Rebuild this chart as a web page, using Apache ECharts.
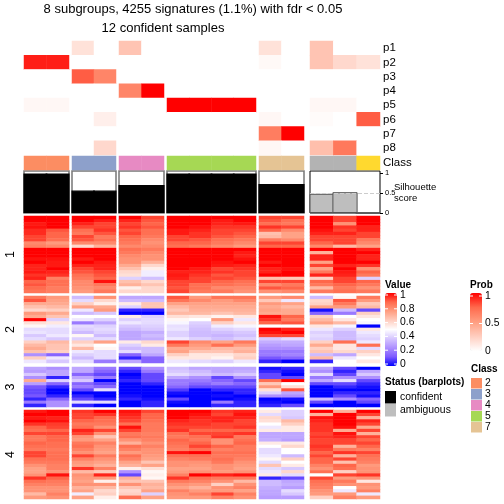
<!DOCTYPE html>
<html><head><meta charset="utf-8">
<style>html,body{margin:0;padding:0;background:#fff}#c{width:504px;height:504px}</style>
<script src="https://cdn.jsdelivr.net/npm/echarts@6/dist/echarts.min.js"></script>
</head><body><div id="c"></div>
<script>
// data: every inner array of a slice is one sample (column); samples run left to right across groups
const probLabels = ['p1','p2','p3','p4','p5','p6','p7','p8'];
const groupSizes = [2,2,2,4,2,3];
const probRows = [
 // one row per p, one value per sample
 [0,0,.15,0,.3,0,0,0,0,0,.15,0,.3,0,0],
 [.93,.93,0,0,0,0,0,0,0,0,.03,0,.3,.2,.15],
 [0,0,.78,.62,0,0,0,0,0,0,0,0,0,0,0],
 [0,0,0,0,.62,1,0,0,0,0,0,0,0,0,0],
 [.04,.04,0,0,0,0,1,1,1,1,0,0,.04,.04,0],
 [0,0,0,.08,0,0,0,0,0,0,.04,0,.02,0,.78],
 [0,0,0,0,0,0,0,0,0,0,.66,1,0,0,0],
 [0,0,0,.2,0,0,0,0,0,0,.04,0,.33,.68,0]
];
const classOfSample = ['2','2','3','3','4','4','5','5','5','5','7','7','amb','amb','yel'];
const classColors = {'2':'#FC8D62','3':'#8DA0CB','4':'#E78AC3','5':'#A6D854','7':'#E5C494',amb:'#B3B3B3',yel:'#FFD92F'};
const silhouette = [.99,.99,.56,.56,.70,.70,.99,.99,.99,.99,.725,.725,.48,.52,0];
const confident = [1,1,1,1,1,1,1,1,1,1,1,1,0,0,0];
const sliceNames = ['1','2','3','4'];
const slice1 = [
 [1,1,.97,.98,.95,.95,.92,.92,.8,.82,1,1,1,.98,1,.96,.96,.97,.94,.96,.88,.9,.87,.85],
 [1,1,1,1,.9,.88,.88,.86,.76,.8,1,1,1,.98,.97,.97,1,.96,.94,.82,.86,.86,.83,.83],
 [1,1,.96,.92,.86,.84,.92,.9,.8,.6,1,1,1,.97,1,.96,.92,.9,.86,.84,.8,.8,.78,.76],
 [1,.97,.92,.92,.94,.9,.84,.86,.8,.7,1,1,1,1,.97,.96,.96,.92,.9,.88,.98,.84,.8,.84],
 [1,.96,.92,.94,.9,.92,.88,.86,.84,.8,.86,.84,.8,.78,.78,.72,.66,.6,.58,.4,.66,.7,.54,.6],
 [.92,.9,.88,.9,.86,.86,.84,.8,.78,.8,.84,.8,.78,.78,.7,.6,.54,.46,.46,.36,.6,.65,.6,.6],
 [1,1,1,1,.97,.97,.92,.92,.88,.86,1,1,1,1,1,1,1,.96,.97,.96,.92,.92,.9,.92],
 [1,1,1,.98,.96,.94,.94,.9,.88,.84,1,1,1,1,1,1,.97,.96,.94,.92,.92,.86,.86,.84],
 [1,.97,.96,.94,.92,.92,.9,.86,.84,.8,1,1,1,1,.98,.97,.92,.94,.9,.92,.88,.86,.8,.84],
 [1,1,.97,.94,.92,.9,.88,.84,.8,.76,1,.97,.96,.98,1,.96,.94,.92,.92,.9,.86,.84,.8,.78],
 [.92,.9,.86,.94,.88,.66,.68,.83,.92,.88,1,1,1,1,.97,1,.96,.96,1,.66,.92,.8,.9,.78],
 [.92,.86,.84,.92,.8,.74,.74,.8,.92,.88,1,1,1,1,1,1,.98,1,1,.64,.92,.84,.88,.8],
 [1,1,1,1,.98,.96,.92,.92,.88,.8,1,.7,.96,.96,.74,.92,.74,.84,.96,.62,.88,.84,.68,.84],
 [.92,.92,.78,.94,.92,.96,.92,.92,.92,.68,1,1,1,1,1,.96,1,.97,.96,.92,.92,.88,.84,.86],
 [1,1,1,.96,.96,.92,.92,.84,.8,.74,.96,1,.96,.96,1,.94,.78,.88,.84,.4,.88,.84,.78,.84]
];
const slice2 = [
 [.84,.9,.72,.66,.6,.76,.72,1,.58,.52,.42,.44,.38,.42,.62,.68,.72,.66,.25,.62,.45],
 [.76,.74,.72,.68,.62,.72,.65,.4,.56,.46,.42,.42,.45,.38,.68,.65,.65,.62,.15,.45,.38],
 [.35,.42,.62,.74,.45,.35,.5,.45,.2,.42,.4,.35,.52,.4,.62,.56,.68,.45,.4,.35,.42],
 [.78,.6,.54,.72,.76,.38,.5,.4,.3,.4,.42,.4,.35,.42,.74,.5,.52,.42,.42,.42,.2],
 [.3,.35,.55,.4,.05,0,.55,.4,.45,.38,.35,.3,.3,.3,.55,.4,.35,.42,.15,.05,.3],
 [.3,.35,.65,.65,.05,0,.4,.42,.42,.4,.38,.32,.35,.32,.6,.55,.35,.35,.3,.15,.15],
 [.9,.85,.74,.68,.64,.68,.58,.52,.48,.43,.44,.4,.4,.45,.92,.84,.72,.74,.62,.56,.45],
 [.76,.8,.74,.72,.7,.68,.56,.5,.4,.38,.36,.35,.35,.4,.8,.76,.72,.65,.56,.56,.42],
 [.85,.76,.74,.72,.7,.65,.53,.76,.62,.46,.4,.36,.33,.36,.74,.86,.68,.65,.56,.53,.4],
 [.85,.8,.74,.72,.7,.68,.56,.45,.56,.48,.42,.38,.36,.4,.84,.76,.68,.7,.6,.62,.45],
 [.76,.64,.76,.72,.74,.72,.98,.94,.88,.5,1,.98,.92,.38,.32,.28,.25,.2,.2,.12,.05],
 [.8,.45,.74,.68,.72,.72,.88,.84,.9,.5,.96,1,.92,.42,.32,.3,.25,.2,.22,.15,0],
 [.35,.6,.62,.74,.02,.15,.62,.68,.74,.56,.45,.4,.42,.4,.62,.72,.62,.65,.35,.68,.05],
 [.52,.9,.84,.76,.35,.2,.5,.56,.68,.48,.4,.35,.35,.35,.86,.56,.56,.6,.3,.45,.5],
 [.84,.76,.64,.68,.1,.62,.56,.5,.48,0,.56,.45,.42,.4,.45,.86,.42,.62,.56,.5,.56]
];
const slice3 = [
 [.3,.28,.38,.25,.72,.28,.12,.1,.1,.12,.05,.2,.05],
 [.25,.3,.3,.05,.4,.15,.05,0,0,.05,.15,.25,.25],
 [.3,.3,.15,.3,.38,.15,.2,.1,0,.05,.1,.42,.05],
 [.2,.15,.1,.2,0,.1,.15,.42,0,0,.05,.42,0],
 [.1,.05,0,.02,.05,0,0,0,0,.02,.05,0,0],
 [.25,.2,.1,.1,.1,.05,0,0,0,0,.02,.05,.05],
 [.36,.38,.42,.3,.2,.2,.15,.08,.02,0,.1,.02,0],
 [.3,.35,.38,.25,.2,.15,.1,0,0,0,0,0,0],
 [.3,.3,.35,.1,.15,.2,.1,.05,0,.02,0,.2,.05],
 [.3,.32,.38,.25,.1,.15,.1,.05,.05,0,.02,.05,.05],
 [.02,.05,.1,.1,.86,.64,.76,.58,.4,.25,0,.02,.05],
 [.05,.02,0,.1,1,.5,.58,.9,.3,.25,.02,0,.1],
 [.3,.25,.42,.2,.3,.1,0,0,0,0,.35,.1,0],
 [.1,.05,.1,.25,.42,.1,.05,0,.05,.1,.25,0,0],
 [0,.3,.38,.25,.1,.05,.02,0,.05,.02,.15,.1,0]
];
const slice4 = [
 [.97,1,.97,1,.94,.88,.86,.92,.84,.84,.88,.86,.84,.92,.92,.86,.84,.78,.74,.74,.78,.94,.86,.82,.78,.78,.68,.76],
 [1,1,.96,.98,.93,.92,.88,.92,.88,.88,.86,.86,.84,.86,.86,.86,.84,.82,.82,.78,.98,.88,.84,.82,.78,.78,.82,.78],
 [.94,.92,.92,.88,.84,.86,.96,.92,.78,.76,.84,.86,.82,.78,.92,.82,.76,.74,.94,.68,.78,.76,.74,.78,.7,.74,.46,.74],
 [1,.94,.88,.86,.84,.78,.92,.78,.65,.74,.82,.78,.76,.74,.84,.78,.74,.7,.82,.64,.96,.76,.54,.78,.68,.6,.62,.54],
 [.98,.96,.94,.92,.86,.98,.92,.84,.86,.78,.7,.86,.82,.76,.86,.82,.74,.7,.54,.25,.1,.7,.65,.78,.65,.6,.62,.86],
 [.92,.88,.88,.86,.84,.84,.84,.82,.84,.82,.78,.82,.78,.78,.76,.74,.65,.74,.58,.52,.54,.52,.65,.7,.68,.74,.4,.74],
 [1,1,1,.96,.94,.92,.94,.86,.84,.88,.86,.84,.82,.98,.86,.82,.78,.78,.74,.76,.82,.94,.84,.78,.74,.82,.78,.76],
 [1,.98,.96,.94,.94,.92,.88,.92,.86,.84,.88,.92,.86,1,.86,.84,.78,.76,.74,.78,1,.86,.82,.76,.7,.76,.82,.76],
 [.94,.92,.96,.96,.92,.92,.88,.92,.94,.78,.78,.88,.82,.86,.84,.86,.84,.78,.78,.76,.96,.84,.78,.62,.78,.76,.92,.82],
 [.96,.98,.96,.92,.92,.94,.88,.94,.84,.86,.88,.84,.84,.86,.84,.82,.78,.76,.74,.78,.98,.84,.68,.78,.82,.74,.82,.78],
 [.55,.42,.6,.58,.5,.45,.55,.3,.3,.32,.55,.5,.42,.42,.45,.52,.42,.65,.42,.45,.55,.05,.35,.35,.32,.3,.3,.28],
 [.4,.4,.38,.68,.62,.55,.55,.3,.3,.28,.55,.6,.5,.5,.35,.62,.5,.55,.38,.6,.42,.1,.3,.32,.28,.42,.38,.28],
 [1,.7,.98,.96,.94,.94,.94,.92,.94,.92,.92,.94,.92,.88,.92,.88,.88,.82,.78,.86,.5,.92,.86,.84,.82,.78,.76,.62],
 [.7,1,1,1,1,.98,.72,.98,.96,.92,.92,.7,.84,.94,.7,.92,.66,.88,.86,.62,.92,.76,.84,.78,.5,.45,.76,.82],
 [1,.92,.7,.96,.92,.72,.92,.7,.92,.88,.92,.88,.82,.92,.86,.84,.82,.76,.78,.78,.94,.78,.56,.78,.76,.82,.45,.76]
];
const slices = [slice1,slice2,slice3,slice4];
const valueTicks = [1,.8,.6,.4,.2,0];
const probTicks = [1,.5,0];
const classLegend = ['2','3','4','5','7'];
const statusLegend = [['confident','#000'],['ambiguous','#BEBEBE']];

// layout
const FONT = '"Liberation Sans",Arial,sans-serif';
const groupBox = [[24,45],[72,44],[119,45],[167,89],[259,45],[310,70]];
const blocks = {prob:[41,114],cls:[156,14],sil:[171,42]};
const sliceBox = [[216,77],[296,67],[367,40],[410,89]];
const VAL = ['#0000FF','#7D5AFF','#AE90FF','#D6C6FF','#FFFFFF','#FFCEC0','#FF9E81','#FF6A4D','#FF0000'];
const PROB = ['#FFFFFF','#FFCEC0','#FF9E81','#FF6A4D','#FF0000'];

const grids=[],xAxes=[],yAxes=[],series=[],valIdx=[],probIdx=[];
function addGrid(box,top,h,xCats,y,extra){
  grids.push({left:box[0],width:box[1],top:top,height:h,containLabel:false,show:!!(extra&&extra.grid),...(extra&&extra.grid||{})});
  xAxes.push({gridIndex:grids.length-1,type:'category',data:xCats,show:false,boundaryGap:true});
  yAxes.push(Object.assign({gridIndex:grids.length-1},y));
  return grids.length-1;
}
const hiddenY=(n)=>({type:'category',data:Array.from({length:n},(_,i)=>i),inverse:true,show:false});
let start=0;
groupSizes.forEach((n,g)=>{
  const box=groupBox[g], ids=Array.from({length:n},(_,i)=>start+i), xc=ids.map(String), last=g===groupSizes.length-1;
  // probability rows
  let yP = last ? {type:'category',data:probLabels,inverse:true,position:'right',axisLine:{show:false},axisTick:{show:false},
    axisLabel:{show:true,interval:0,fontFamily:FONT,fontSize:11.5,color:'#000',margin:3}} : hiddenY(8);
  let gi=addGrid(box,blocks.prob[0],blocks.prob[1],xc,yP);
  const pd=[]; probRows.forEach((row,r)=>ids.forEach((s,c)=>pd.push([c,r,row[s]])));
  probIdx.push(series.length);
  series.push({type:'heatmap',xAxisIndex:gi,yAxisIndex:gi,data:pd,silent:true,animation:false});
  // class row
  let yC = last ? {type:'category',data:['Class'],position:'right',axisLine:{show:false},axisTick:{show:false},
    axisLabel:{show:true,fontFamily:FONT,fontSize:11.5,color:'#000',margin:3}} : hiddenY(1);
  gi=addGrid(box,blocks.cls[0],blocks.cls[1],xc,yC);
  series.push({type:'heatmap',xAxisIndex:gi,yAxisIndex:gi,silent:true,animation:false,
    data:ids.map((s,c)=>({value:[c,0,1],itemStyle:{color:classColors[classOfSample[s]]}}))});
  // silhouette bars
  const y={type:'value',min:0,max:1.05,show:last,position:'right',splitLine:{show:false},
    axisLine:{show:false},axisTick:{show:true,length:3,customValues:[0,.5,1],lineStyle:{color:'#000'}},
    axisLabel:{show:true,fontFamily:FONT,fontSize:7.5,color:'#000',margin:5,customValues:[0,.5,1],formatter:v=>String(v)}};
  gi=addGrid(box,blocks.sil[0],blocks.sil[1],xc,y,{grid:{borderColor:last?'#000':'#777',borderWidth:last?1:1.5,backgroundColor:'#fff'}});
  series.push({type:'bar',xAxisIndex:gi,yAxisIndex:gi,barWidth:'108%',silent:true,animation:false,
    data:ids.map(s=>({value:silhouette[s],itemStyle:confident[s]?{color:'#000',borderColor:'#000',borderWidth:1.2}:{color:'#BEBEBE',borderColor:'#555',borderWidth:1}})),
    markLine:last?{silent:true,symbol:'none',label:{show:false},animation:false,lineStyle:{color:'#CCCCCC',type:'dashed',width:1},data:[{yAxis:.5}]}:undefined});
  // main heat-map slices
  slices.forEach((sl,k)=>{
    const rows=sl[0].length;
    const yS = g===0 ? {type:'category',data:sl[0].map((_,i)=>i),inverse:true,axisLine:{show:false},axisTick:{show:false},axisLabel:{show:false},
      name:sliceNames[k],nameLocation:'middle',nameRotate:90,nameGap:7,nameTextStyle:{fontFamily:FONT,fontSize:12.5,color:'#000'}} : hiddenY(rows);
    const gk=addGrid(box,sliceBox[k][0],sliceBox[k][1],xc,yS);
    const d=[]; ids.forEach((s,c)=>sl[s].forEach((v,r)=>d.push([c,r,v])));
    valIdx.push(series.length);
    series.push({type:'heatmap',xAxisIndex:gk,yAxisIndex:gk,data:d,silent:true,animation:false});
  });
  start+=n;
});

// legends and free text
const t=(x,y,text,o)=>({type:'text',x,y,silent:true,style:Object.assign({text,fill:'#000',font:'10.4px '+FONT,textVerticalAlign:'middle'},o||{})});
const g=[];
g.push(t(394,187,'Silhouette',{font:'9.5px '+FONT}),t(394,198,'score',{font:'9.5px '+FONT}));
g.push(t(385,285,'Value',{font:'bold 10px '+FONT}));
g.push(t(470,285,'Prob',{font:'bold 10px '+FONT}));
g.push(t(471,369,'Class',{font:'bold 10px '+FONT}));
g.push(t(385,382,'Status (barplots)',{font:'bold 10px '+FONT}));
valueTicks.forEach(v=>{const y=364-v*69;
  g.push(t(400,y,String(v)));
  g.push({type:'line',silent:true,z:10,shape:{x1:385,y1:y,x2:388,y2:y},style:{stroke:'#fff'}});
  g.push({type:'line',silent:true,z:10,shape:{x1:394,y1:y,x2:397,y2:y},style:{stroke:'#fff'}});});
probTicks.forEach(v=>{const y=351-v*55;
  g.push(t(485,y,String(v)));
  g.push({type:'line',silent:true,z:10,shape:{x1:470,y1:y,x2:473,y2:y},style:{stroke:'#fff'}});
  g.push({type:'line',silent:true,z:10,shape:{x1:479,y1:y,x2:482,y2:y},style:{stroke:'#fff'}});});
classLegend.forEach((c,i)=>{const y=378+i*11;
  g.push({type:'rect',silent:true,shape:{x:471,y:y,width:11,height:10.5},style:{fill:classColors[c]}});
  g.push(t(485,y+5.5,c));});
statusLegend.forEach(([n,col],i)=>{const y=391+i*13;
  g.push({type:'rect',silent:true,shape:{x:385,y:y,width:11,height:12.5},style:{fill:col}});
  g.push(t(400,y+6.5,n));});

const chart=echarts.init(document.getElementById('c'),null,{renderer:'canvas'});
chart.setOption({
  animation:false,backgroundColor:'#fff',
  title:[
    {text:'8 subgroups, 4255 signatures (1.1%) with fdr < 0.05',left:193,top:3,textAlign:'center',padding:0,textStyle:{fontFamily:FONT,fontSize:13,fontWeight:'normal',color:'#000'}},
    {text:'12 confident samples',left:163,top:22,textAlign:'center',padding:0,textStyle:{fontFamily:FONT,fontSize:13,fontWeight:'normal',color:'#000'}}
  ],
  grid:grids,xAxis:xAxes,yAxis:yAxes,series,
  visualMap:[
    {type:'continuous',min:0,max:1,dimension:2,seriesIndex:valIdx,inRange:{color:VAL},left:385,top:293,padding:0,itemWidth:12,itemHeight:73,text:null,calculable:false,showLabel:false,hoverLink:false,realtime:false},
    {type:'continuous',min:0,max:1,dimension:2,seriesIndex:probIdx,inRange:{color:PROB},left:470,top:293,padding:0,itemWidth:12,itemHeight:58,text:null,calculable:false,showLabel:false,hoverLink:false,realtime:false}
  ],
  graphic:g
});
</script></body></html>
